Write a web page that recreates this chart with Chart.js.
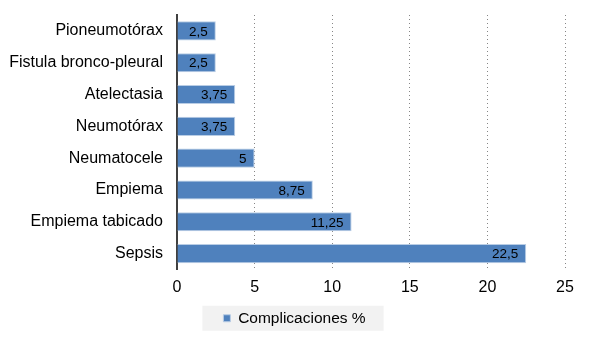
<!DOCTYPE html>
<html>
<head>
<meta charset="utf-8">
<script src="https://cdn.jsdelivr.net/npm/chart.js@4"></script>
<style>
  html, body { margin: 0; padding: 0; background: #fff; }
  #wrap { width: 589px; height: 339px; }
</style>
</head>
<body>
<div id="wrap"><canvas id="chart" width="589" height="339"></canvas></div>
<script>
const categories = ['Pioneumotórax', 'Fistula bronco-pleural', 'Atelectasia', 'Neumotórax',
    'Neumatocele', 'Empiema', 'Empiema tabicado', 'Sepsis'];
const values = [2.5, 2.5, 3.75, 3.75, 5, 8.75, 11.25, 22.5];
const seriesName = 'Complicaciones %';
const xTicks = [0, 5, 10, 15, 20, 25];

const FONT = '"Liberation Sans", Arial, sans-serif';

// value labels at the inside end of each bar, comma decimals
const barLabels = {
    id: 'barLabels',
    afterDatasetsDraw(chart) {
        const c = chart.ctx;
        const meta = chart.getDatasetMeta(0);
        c.save();
        c.font = '13.5px ' + FONT;
        c.fillStyle = '#000';
        c.textAlign = 'right';
        c.textBaseline = 'middle';
        meta.data.forEach((bar, i) => {
            const txt = String(values[i]).replace('.', ',');
            c.fillText(txt, bar.x - 8, bar.y + 1);
        });
        c.restore();
    }
};

// light grey panel behind the legend
const legendBg = {
    id: 'legendBg',
    beforeDraw(chart) {
        const lg = chart.legend;
        if (!lg || !lg.legendHitBoxes.length) return;
        const hb = lg.legendHitBoxes[0];
        const c = chart.ctx;
        c.save();
        c.fillStyle = '#f2f2f2';
        c.fillRect(hb.left - 21, hb.top + hb.height / 2 - 12.5, hb.width + 39, 25);
        c.restore();
    }
};

const ctx = document.getElementById('chart').getContext('2d');
new Chart(ctx, {
    type: 'bar',
    data: {
        labels: categories,
        datasets: [{
            label: seriesName,
            data: values,
            backgroundColor: '#4f81bd',
            borderColor: '#b9cde5',
            borderWidth: 1,
            barPercentage: 0.6,
            categoryPercentage: 1
        }]
    },
    options: {
        indexAxis: 'y',
        responsive: false,
        animation: false,
        layout: { padding: { top: 15, right: 0, left: 0, bottom: 3 } },
        scales: {
            x: {
                min: 0,
                max: 25,
                afterBuildTicks: (s) => { s.ticks = xTicks.map(v => ({ value: v })); },
                afterFit: (s) => { s.height = 28; },
                grid: {
                    color: '#868686',
                    lineWidth: 1,
                    drawTicks: false
                },
                border: { display: false, dash: [1, 3] },
                ticks: { color: '#000', font: { family: FONT, size: 16 }, padding: 8 }
            },
            y: {
                afterFit: (s) => { s.width = 177; },
                // invisible tick marks give the gap between labels and axis line
                grid: { color: 'rgba(0,0,0,0)', drawOnChartArea: false, drawTicks: true, tickLength: 14 },
                border: { display: true, color: '#404040', width: 2 },
                ticks: { color: '#000', font: { family: FONT, size: 16 }, padding: 0 }
            },
            // empty right margin so the legend stays centred on the canvas
            yRight: {
                position: 'right',
                afterFit: (s) => { s.width = 24; },
                grid: { display: false, drawTicks: false },
                border: { display: false },
                ticks: { display: false }
            }
        },
        plugins: {
            legend: {
                position: 'bottom',
                labels: {
                    boxWidth: 7,
                    boxHeight: 7,
                    padding: 13,
                    color: '#000',
                    font: { family: FONT, size: 15.5 }
                }
            },
            tooltip: { enabled: false }
        }
    },
    plugins: [barLabels, legendBg]
});
</script>
</body>
</html>
